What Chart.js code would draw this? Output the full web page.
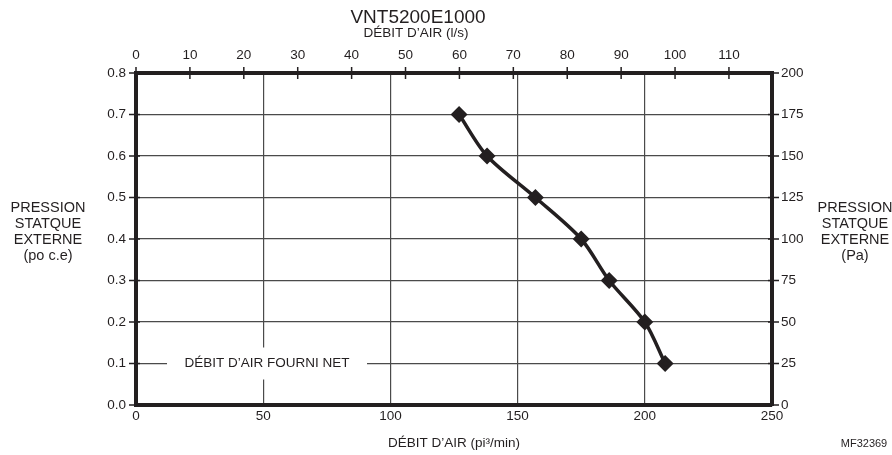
<!DOCTYPE html>
<html>
<head>
<meta charset="utf-8">
<script src="https://cdn.jsdelivr.net/npm/chart.js@4/dist/chart.umd.min.js"></script>
<style>
  body { margin: 0; background: #fff; }
  #wrap { width: 892px; height: 455px; position: relative; }
</style>
</head>
<body>
<div id="wrap"><canvas id="myChart"></canvas></div>
<script>
// curve
const airflowCfm = [127, 138, 157, 175, 186, 200, 208];
const pressureInWc = [0.7, 0.6, 0.5, 0.4, 0.3, 0.2, 0.1];

const cfmTicks = [0, 50, 100, 150, 200, 250];
const lpsStep = 10;
const paStep = 25;
const inStep = 0.1;

const ink = '#231f20';
const gridColor = '#4a4a4a';
const fontName = '"Liberation Sans", Arial, sans-serif';

// text around the plot, tick marks crossing the frame, and the "net" label
const extras = {
    id: 'extras',
    beforeDatasetsDraw(chart) {
        const { ctx, scales } = chart;
        const cx = scales.x.getPixelForValue(51.5);
        const cy = scales.y.getPixelForValue(0.1);
        ctx.save();
        ctx.fillStyle = '#fff';
        ctx.fillRect(cx - 100, cy - 16, 200, 32);
        ctx.fillStyle = ink;
        ctx.font = '13.5px ' + fontName;
        ctx.textAlign = 'center';
        ctx.textBaseline = 'middle';
        ctx.fillText('DÉBIT D\u2019AIR FOURNI NET', cx, cy);
        ctx.restore();
    },
    afterDraw(chart) {
        const { ctx, chartArea: a, scales } = chart;
        ctx.save();
        ctx.strokeStyle = ink;
        ctx.lineWidth = 1.5;
        ctx.beginPath();
        scales.y.ticks.forEach(t => {
            const p = scales.y.getPixelForValue(t.value);
            ctx.moveTo(a.left - 7, p); ctx.lineTo(a.left + 4, p);
        });
        scales.y2.ticks.forEach(t => {
            const p = scales.y2.getPixelForValue(t.value);
            ctx.moveTo(a.right - 4, p); ctx.lineTo(a.right + 7, p);
        });
        scales.x2.ticks.forEach(t => {
            const p = scales.x2.getPixelForValue(t.value);
            ctx.moveTo(p, a.top - 6); ctx.lineTo(p, a.top + 6);
        });
        ctx.stroke();

        ctx.fillStyle = ink;
        ctx.textAlign = 'center';
        ctx.textBaseline = 'middle';
        const mid = (a.left + a.right) / 2;
        ctx.font = '19px ' + fontName;
        ctx.fillText('VNT5200E1000', 418, 18);
        ctx.font = '13.5px ' + fontName;
        ctx.fillText('DÉBIT D\u2019AIR (l/s)', 416, 33);
        ctx.fillText('DÉBIT D\u2019AIR (pi³/min)', mid, 443);

        const left = ['PRESSION', 'STATQUE', 'EXTERNE', '(po c.e)'];
        const right = ['PRESSION', 'STATQUE', 'EXTERNE', '(Pa)'];
        ctx.font = '14.5px ' + fontName;
        left.forEach((s, i) => ctx.fillText(s, 48, 208 + i * 16));
        right.forEach((s, i) => ctx.fillText(s, 855, 208 + i * 16));

        ctx.font = '11px ' + fontName;
        ctx.fillText('MF32369', 864, 444);
        ctx.restore();
    }
};

const tickFont = { family: fontName, size: 13.5 };

new Chart(document.getElementById('myChart'), {
    type: 'line',
    data: {
        datasets: [{
            data: airflowCfm.map((v, i) => ({ x: v, y: pressureInWc[i] })),
            borderColor: ink,
            borderWidth: 3.5,
            backgroundColor: ink,
            tension: 0.3,
            pointStyle: 'rectRot',
            pointRadius: 6,
            pointBackgroundColor: ink,
            pointBorderColor: ink,
            xAxisID: 'x',
            yAxisID: 'y'
        }]
    },
    options: {
        responsive: true,
        maintainAspectRatio: false,
        animation: false,
        layout: { padding: 0 },
        plugins: { legend: { display: false }, tooltip: { enabled: false } },
        scales: {
            x: {
                type: 'linear', position: 'bottom',
                min: cfmTicks[0], max: cfmTicks[cfmTicks.length - 1],
                afterBuildTicks: s => { s.ticks = cfmTicks.map(v => ({ value: v })); },
                ticks: { color: ink, font: tickFont, padding: 3, maxRotation: 0 },
                grid: { color: gridColor, lineWidth: 1.2, drawTicks: false },
                border: { color: ink, width: 4 },
                afterFit: s => { s.height = 50; }
            },
            x2: {
                type: 'linear', position: 'top',
                min: 0, max: 250 / 2.11888,
                ticks: { stepSize: lpsStep, includeBounds: false, color: ink, font: tickFont, padding: 10, maxRotation: 0, autoSkip: false },
                grid: { drawOnChartArea: false, drawTicks: false },
                border: { color: ink, width: 4 },
                afterFit: s => { s.height = 73; }
            },
            y: {
                type: 'linear', position: 'left',
                min: 0, max: 0.8,
                ticks: { stepSize: inStep, color: ink, font: tickFont, padding: 10, callback: v => v.toFixed(1) },
                grid: { color: gridColor, lineWidth: 1.2, drawTicks: false },
                border: { color: ink, width: 4 },
                afterFit: s => { s.width = 136; }
            },
            y2: {
                type: 'linear', position: 'right',
                min: 0, max: 200,
                ticks: { stepSize: paStep, color: ink, font: tickFont, padding: 9 },
                grid: { drawOnChartArea: false, drawTicks: false },
                border: { color: ink, width: 4 },
                afterFit: s => { s.width = 120; }
            }
        }
    },
    plugins: [extras]
});
</script>
</body>
</html>
